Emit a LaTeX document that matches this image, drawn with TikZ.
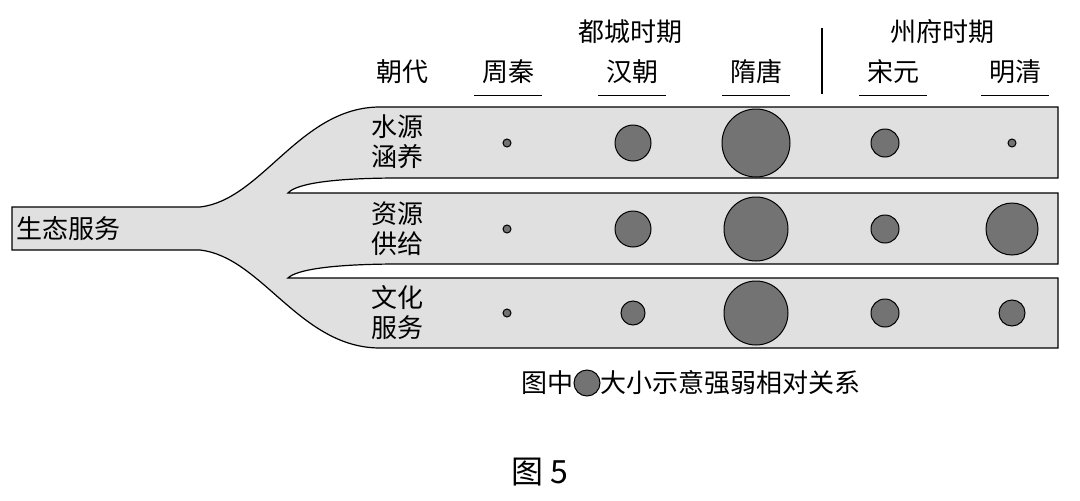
\documentclass[tikz,border=0pt]{standalone}
\usepackage{fontspec}
\newfontfamily\cjk{Noto Sans CJK SC}
\begin{document}
\begin{tikzpicture}[x=1pt,y=-1pt,
  lbl/.style={font=\cjk\fontsize{26}{30}\selectfont,inner sep=0pt},
  era/.style={lbl},
  dot/.style={circle,draw=black,line width=1pt,fill=black!55,inner sep=0pt}]
\useasboundingbox (0,0) rectangle (1080,501);
\draw[line width=1.2pt,fill=black!12]
 (12,207) -- (200,207) .. controls (262,200) and (300,107) .. (380,107) -- (1058,107) -- (1058,178)
 -- (400,178) .. controls (330,178) and (296,184) .. (288,193) -- (1058,193) -- (1058,264)
 -- (400,264) .. controls (330,264) and (296,270) .. (288,278) -- (1058,278) -- (1058,348)
 -- (380,348) .. controls (300,348) and (262,257) .. (200,250) -- (12,250) -- cycle;
\node[lbl,anchor=west] (root) at (16,229) {生态服务};
\node[lbl] (hd) at (402,72) {朝代};
\foreach \n/\x/\t in {a/508/周秦,b/632/汉朝,c/756/隋唐,d/893/宋元,e/1015/明清}{
  \node[era] (\n) at (\x,72) {\t};
  \draw[line width=0.8pt] (\x-34,95) -- (\x+34,95);
}
\node[lbl] (p1) at (630,32) {都城时期};
\node[lbl] (p2) at (942,32) {州府时期};
\draw[line width=1.2pt] (822,28) -- (822,94);
\node[lbl,align=center] (r1) at (397,142) {水源\\涵养};
\node[lbl,align=center] (r2) at (397,229) {资源\\供给};
\node[lbl,align=center] (r3) at (397,313) {文化\\服务};
\foreach \y/\ra/\rb/\rc/\rd/\re in {143/4/18/34/14/4, 229/4/18/32/14/26, 313/4/12/32/14/13}{
  \foreach \x/\r in {507/\ra,633/\rb,756/\rc,885/\rd,1012/\re}{
    \node[dot,minimum size=2*\r] at (\x,\y) {};
  }
}
\node[lbl,anchor=east] (lg1) at (574,383) {图中};
\node[dot,minimum size=26] (lgd) at (587,383) {};
\node[lbl,anchor=west] (lg2) at (600,383) {大小示意强弱相对关系};
\node[font=\cjk\fontsize{32}{36}\selectfont,inner sep=0pt] (fig) at (540,472) {图 5};
\end{tikzpicture}
\end{document}
